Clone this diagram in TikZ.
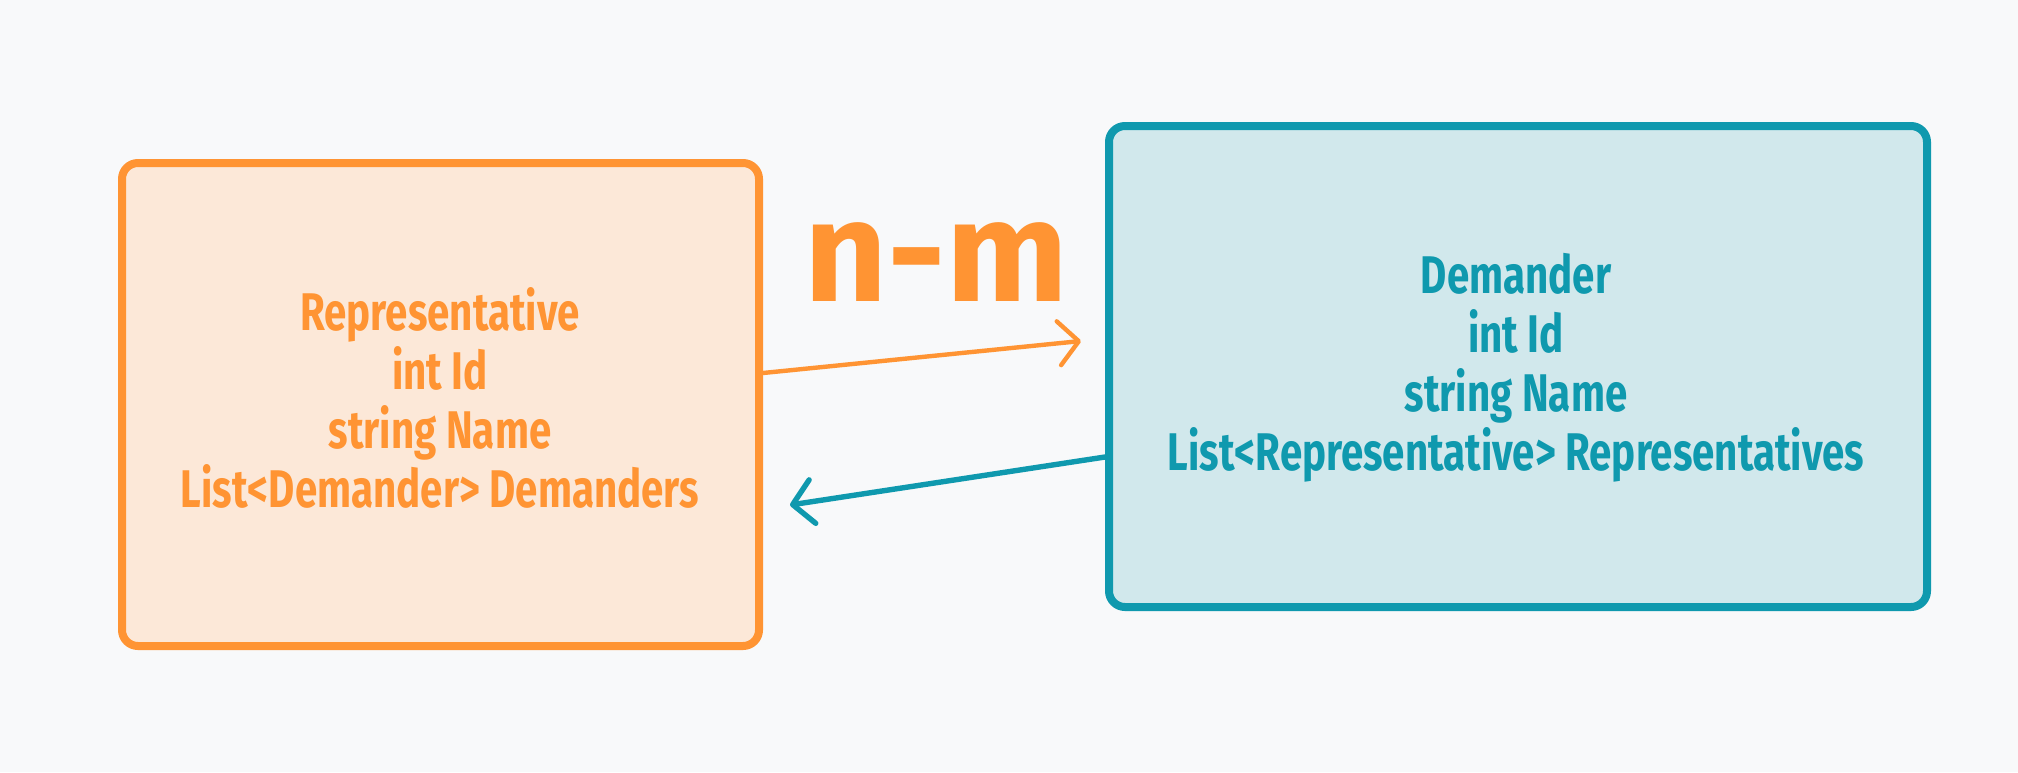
\documentclass[tikz,border=0pt]{standalone}
\usepackage{fontspec}
\usetikzlibrary{arrows.meta}
\newfontfamily\hand{Fira Sans}[FakeStretch=0.76]
\newfontfamily\handbig{Fira Sans}
\definecolor{bgc}{HTML}{F8F9FA}
\definecolor{orst}{HTML}{FF9433}
\definecolor{orfill}{HTML}{FCE8D8}
\definecolor{tlst}{HTML}{0F99AE}
\definecolor{tlfill}{HTML}{D1E8EC}
\tikzset{
  entity/.style={rounded corners=8pt, line width=4pt, align=center, inner sep=0pt,
    font=\hand\bfseries\fontsize{26.5}{29.5}\selectfont},
  orbox/.style={entity, draw=orst, fill=orfill, text=orst},
  tlbox/.style={entity, draw=tlst, fill=tlfill, text=tlst},
  conn/.style={line cap=round, line join=round, -{Straight Barb[length=10pt,width=22pt,line cap=round,line join=round]}},
}
\begin{document}
\begin{tikzpicture}[x=0.5pt,y=-0.5pt]
\fill[bgc] (0,0) rectangle (2018,772);
\useasboundingbox (0,0) rectangle (2018,772);
\node[orbox, minimum width=318.5pt, minimum height=241.5pt] (L) at (440.5,404.5) {};
\node[text=orst, font=\hand\bfseries\fontsize{26.5}{29.5}\selectfont, align=center, inner sep=0pt] (Lt) at (440,398)
  {Representative\\int Id\\string Name\\List<Demander> Demanders};
\node[tlbox, minimum width=409pt, minimum height=240.5pt] (R) at (1518,366.5) {};
\node[text=tlst, font=\hand\bfseries\fontsize{26.5}{29.5}\selectfont, align=center, inner sep=0pt] (Rt) at (1516,368)
  {Demander\\int Id\\string Name\\List<Representative> Representatives};
\node[text=orst, font=\handbig\bfseries\fontsize{72}{72}\selectfont, inner sep=0pt] (nm) at (936,262) {n-m};
\coordinate (a1s) at (759,373);
\coordinate (a1e) at (1081,341);
\coordinate (a2s) at (1109,457);
\coordinate (a2e) at (790,505);
\draw[conn, orst, line width=2.2pt] (L.east |- a1s) -- (a1e);
\draw[conn, tlst, line width=2.7pt] (R.west |- a2s) -- (a2e);
\end{tikzpicture}
\end{document}
